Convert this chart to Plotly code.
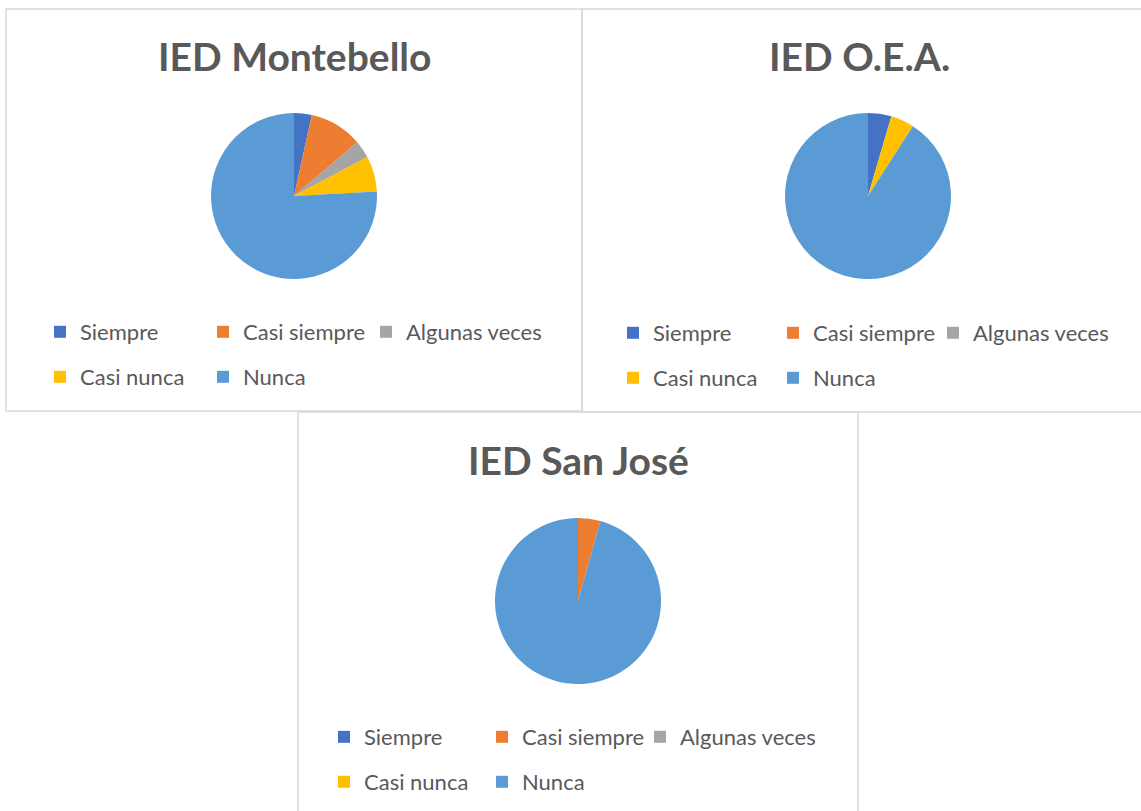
import plotly.graph_objects as go

W, H = 1141, 811

categories = ["Siempre", "Casi siempre", "Algunas veces", "Casi nunca", "Nunca"]
colors = ["#4472C4", "#ED7D31", "#A5A5A5", "#FFC000", "#5B9BD5"]

titles = ["IED Montebello", "IED O.E.A.", "IED San José"]
montebello = [1, 3, 1, 2, 22]
oea = [1, 0, 0, 1, 20]
san_jose = [0, 1, 0, 0, 22]
series = [montebello, oea, san_jose]

# layout (pixels)
pie_centers = [(294, 196), (868, 196), (578, 601)]
pie_radius = 83
title_pos = [(294, 56), (859, 56), (578, 460)]
panels = [(6, 9, 582, 411), (582, 9, 1143, 412), (298, 412, 858, 813)]
legend_x = [40, 613, 324]
legend_rows_y = [(332, 377), (333, 378), (737, 782)]
entry_w = [118, 115, 113]

def px(x):
    return x / W

def py(y):
    return 1 - y / H

fig = go.Figure()

for i, vals in enumerate(series):
    cx, cy = pie_centers[i]
    fig.add_trace(go.Pie(
        labels=categories, values=vals,
        marker=dict(colors=colors, line=dict(width=0)),
        sort=False, direction="clockwise", rotation=0,
        textinfo="none", hoverinfo="label+value+percent",
        showlegend=False,
        domain=dict(x=[px(cx - pie_radius), px(cx + pie_radius)],
                    y=[py(cy + pie_radius), py(cy - pie_radius)]),
    ))

# legend entries (two rows per panel: 3 + 2)
legend_layouts = {}
n = 0
for i in range(3):
    for r, idxs in enumerate([[0, 1, 2], [3, 4]]):
        n += 1
        lname = "legend" if n == 1 else f"legend{n}"
        for j, k in enumerate(idxs):
            extra = {}
            if j == len(idxs) - 1:
                extra["legendwidth"] = 140
            fig.add_trace(go.Scatter(
                x=[None], y=[None], mode="markers",
                marker=dict(symbol="square", size=12, color=colors[k]),
                name=categories[k], legend=lname, showlegend=True,
                hoverinfo="skip", **extra,
            ))
        legend_layouts[lname] = dict(
            orientation="h", x=px(legend_x[i]), y=py(legend_rows_y[i][r]),
            xanchor="left", yanchor="middle", xref="paper", yref="paper",
            entrywidth=entry_w[i], entrywidthmode="pixels",
            font=dict(family="Lato", size=22, color="#595959"),
            bgcolor="rgba(0,0,0,0)", borderwidth=0,
            itemclick=False, itemdoubleclick=False,
        )

shapes = []
for (x0, y0, x1, y1) in panels:
    shapes.append(dict(type="rect", xref="paper", yref="paper",
                       x0=px(x0), x1=px(x1), y0=py(y1), y1=py(y0),
                       line=dict(color="#D9D9D9", width=1.5),
                       fillcolor="rgba(0,0,0,0)", layer="below"))

annotations = []
for t, (tx, ty) in zip(titles, title_pos):
    annotations.append(dict(text=f"<b>{t}</b>", x=px(tx), y=py(ty),
                            xref="paper", yref="paper", showarrow=False,
                            xanchor="center", yanchor="middle",
                            font=dict(family="Lato", size=39, color="#595959")))

fig.update_layout(
    width=W, height=H, autosize=False,
    margin=dict(l=0, r=0, t=0, b=0, autoexpand=False),
    paper_bgcolor="white", plot_bgcolor="white",
    xaxis=dict(visible=False), yaxis=dict(visible=False),
    shapes=shapes, annotations=annotations,
    **legend_layouts,
)

post = (
    "document.documentElement.style.margin='0';"
    "document.documentElement.style.overflow='hidden';"
    "document.body.style.margin='0';"
    "document.body.style.overflow='hidden';"
    "var d=document.getElementById('{plot_id}');"
    "d.style.position='fixed';d.style.left='0px';d.style.top='0px';"
)

fig.write_html("out.html",
               config={"responsive": False, "displayModeBar": False},
               post_script=post)
